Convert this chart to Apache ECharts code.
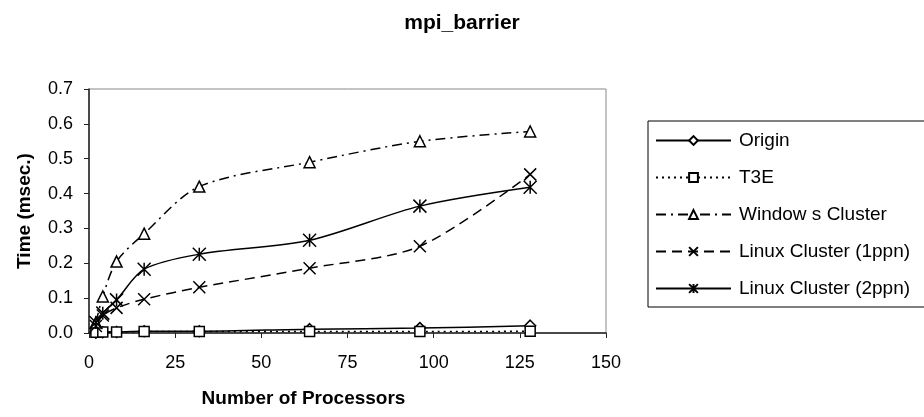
<!DOCTYPE html>
<html>
<head>
<meta charset="utf-8">
<script src="https://cdn.jsdelivr.net/npm/echarts@6/dist/echarts.min.js"></script>
<style>html,body{margin:0;padding:0;background:#fff}#c{width:924px;height:417px}</style>
</head>
<body>
<div id="c"></div>
<script>
var processors = [2, 4, 8, 16, 32, 64, 96, 128];
var originVals = [0.001, 0.002, 0.003, 0.005, 0.005, 0.011, 0.014, 0.021];
var t3eVals = [0.002, 0.003, 0.003, 0.004, 0.004, 0.004, 0.004, 0.005];
var windowsVals = [0.03, 0.105, 0.205, 0.285, 0.42, 0.49, 0.55, 0.578];
var linux1Vals = [0.02, 0.05, 0.072, 0.097, 0.131, 0.186, 0.249, 0.455];
var linux2Vals = [0.03, 0.057, 0.095, 0.183, 0.226, 0.266, 0.364, 0.418];
var seriesNames = ['Origin', 'T3E', 'Window s Cluster', 'Linux Cluster (1ppn)', 'Linux Cluster (2ppn)'];

function pairs(vals) { return processors.map(function (p, i) { return [p, vals[i]]; }); }

var FONT = 'Liberation Sans, Arial, sans-serif';
var symX = 'path://M0,0L10,10M10,0L0,10';
var symStar = 'path://M5,0L5,10M0,0L10,10M10,0L0,10';

function mk(name, vals, symbol, size, dash) {
  return {
    name: name, type: 'line', data: pairs(vals), smooth: 0.3,
    symbol: symbol, symbolSize: size, showSymbol: true,
    lineStyle: { color: '#000', width: 1.5, type: dash },
    itemStyle: { color: '#fff', borderColor: '#000', borderWidth: 1.5 }
  };
}

var chart = echarts.init(document.getElementById('c'), null, { renderer: 'canvas' });
chart.setOption({
  animation: false,
  backgroundColor: '#fff',
  title: { text: 'mpi_barrier', left: 'center', top: 8,
    textStyle: { fontFamily: FONT, fontSize: 21, fontWeight: 'bold', color: '#000' } },
  grid: { left: 89, right: 318, top: 89, bottom: 84, show: true, borderColor: '#888', borderWidth: 1 },
  legend: {
    orient: 'vertical', left: 648, top: 121,
    itemWidth: 75, itemHeight: 11, itemGap: 18,
    padding: [10, 30, 9, 7],
    borderColor: '#000', borderWidth: 1,
    textStyle: { fontFamily: FONT, fontSize: 19, color: '#000', lineHeight: 18, padding: [0, 0, 0, 3] },
    data: seriesNames
  },
  xAxis: {
    type: 'value', min: 0, max: 150, interval: 25,
    name: 'Number of Processors', nameLocation: 'middle', nameGap: 56,
    nameTextStyle: { fontFamily: FONT, fontSize: 19, fontWeight: 'bold', color: '#000', padding: [0, 88, 0, 0] },
    axisLine: { show: true, onZero: false, lineStyle: { color: '#222', width: 1.5 } },
    axisTick: { show: true, inside: false, length: 5, lineStyle: { color: '#222' } },
    axisLabel: { fontFamily: FONT, fontSize: 18, color: '#000', margin: 21 },
    splitLine: { show: false }
  },
  yAxis: {
    type: 'value', min: 0, max: 0.7, interval: 0.1,
    name: 'Time (msec.)', nameLocation: 'middle', nameGap: 55, nameRotate: 90,
    nameTextStyle: { fontFamily: FONT, fontSize: 19, fontWeight: 'bold', color: '#000' },
    axisLine: { show: true, lineStyle: { color: '#222', width: 1.5 } },
    axisTick: { show: true, inside: false, length: 5, lineStyle: { color: '#222' } },
    axisLabel: { fontFamily: FONT, fontSize: 18, color: '#000', margin: 16,
      formatter: function (v) { return v.toFixed(1); } },
    splitLine: { show: false }
  },
  series: [
    mk(seriesNames[0], originVals, 'diamond', 11, 'solid'),
    mk(seriesNames[1], t3eVals, 'rect', 10, [2, 4]),
    mk(seriesNames[2], windowsVals, 'triangle', 11, [10, 5, 2, 5]),
    mk(seriesNames[3], linux1Vals, symX, 12, [10, 6]),
    mk(seriesNames[4], linux2Vals, symStar, 13, 'solid')
  ]
});
</script>
</body>
</html>
